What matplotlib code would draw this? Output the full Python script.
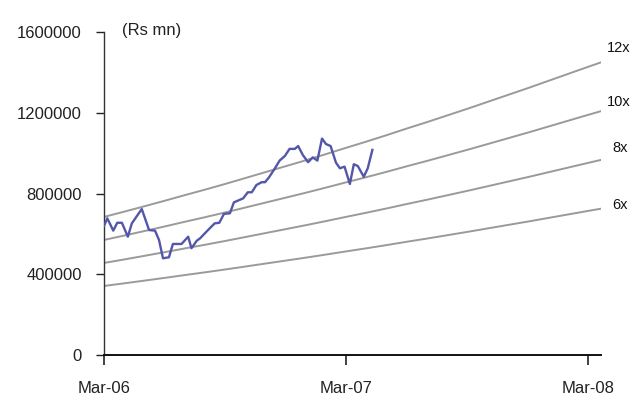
import matplotlib
matplotlib.use("Agg")
import matplotlib.pyplot as plt
import numpy as np
import pandas as pd

plt.rcParams['font.family'] = ['Liberation Sans', 'DejaVu Sans']

# Weekly market capitalisation (Rs mn)
mcap_dates = [
    "2006-03-01", "2006-03-06", "2006-03-15", "2006-03-21", "2006-03-28",
    "2006-04-06", "2006-04-12", "2006-04-27", "2006-05-08", "2006-05-17",
    "2006-05-23", "2006-05-29", "2006-06-07", "2006-06-13", "2006-06-26",
    "2006-07-06", "2006-07-11", "2006-07-19", "2006-07-24", "2006-08-05",
    "2006-08-15", "2006-08-22", "2006-08-29", "2006-09-07", "2006-09-13",
    "2006-09-27", "2006-10-04", "2006-10-10", "2006-10-17", "2006-10-25",
    "2006-10-30", "2006-11-05", "2006-11-14", "2006-11-21", "2006-11-29",
    "2006-12-06", "2006-12-14", "2006-12-19", "2006-12-26", "2007-01-03",
    "2007-01-10", "2007-01-17", "2007-01-24", "2007-01-30", "2007-02-06",
    "2007-02-14", "2007-02-20", "2007-02-27", "2007-03-07", "2007-03-13",
    "2007-03-19", "2007-03-28", "2007-04-03", "2007-04-10",
]
mcap_values = [
    639000, 677000, 616000, 655000, 655000,
    586000, 652000, 723000, 619000, 616000,
    570000, 479000, 484000, 550000, 550000,
    586000, 529000, 566000, 578000, 619000,
    652000, 655000, 699000, 702000, 756000,
    776000, 806000, 806000, 842000, 856000,
    856000, 880000, 925000, 963000, 986000,
    1021000, 1021000, 1035000, 991000, 955000,
    979000, 963000, 1072000, 1045000, 1035000,
    953000, 925000, 933000, 847000, 945000,
    936000, 883000, 925000, 1016000,
]

# Monthly earnings used for the P/E bands (Rs mn)
eps_dates = [
    "2006-03-01", "2006-04-01", "2006-05-01", "2006-06-01", "2006-07-01",
    "2006-08-01", "2006-09-01", "2006-10-01", "2006-11-01", "2006-12-01",
    "2007-01-01", "2007-02-01", "2007-03-01", "2007-04-01", "2007-05-01",
    "2007-06-01", "2007-07-01", "2007-08-01", "2007-09-01", "2007-10-01",
    "2007-11-01", "2007-12-01", "2008-01-01", "2008-02-01", "2008-03-01",
    "2008-03-20",
]
eps_values = [
    57000, 59200, 61400, 63700, 66000,
    68300, 70700, 73100, 75600, 78000,
    80500, 83100, 85500, 88100, 90700,
    93500, 96100, 98900, 101700, 104500,
    107400, 110200, 113200, 116200, 119000,
    120800,
]

pe_multiples = [12, 10, 8, 6]
pe_labels = ["12x", "10x", "8x", "6x"]

y_ticks = [0, 400000, 800000, 1200000, 1600000]
x_tick_dates = ["2006-03-01", "2007-03-01", "2008-03-01"]
x_tick_labels = ["Mar-06", "Mar-07", "Mar-08"]

W, H = 632, 403
fig = plt.figure(figsize=(W / 100, H / 100), dpi=100)
ax = fig.add_axes([104 / W, 1 - 355 / H, (601 - 104) / W, (355 - 32) / H])

ed = pd.to_datetime(eps_dates)
ev = np.array(eps_values, dtype=float)
for m in pe_multiples:
    ax.plot(ed, ev * m, color="#9a9a9a", lw=1.4, zorder=2)

ax.plot(pd.to_datetime(mcap_dates), mcap_values, color="#5457a9", lw=1.7, zorder=3)

ax.set_xlim(pd.Timestamp("2006-03-01"), pd.Timestamp("2008-03-20"))
ax.set_ylim(0, 1600000)
ax.set_yticks(y_ticks)
ax.set_yticklabels([str(v) for v in y_ticks])
ax.set_xticks(pd.to_datetime(x_tick_dates))
ax.set_xticklabels(x_tick_labels)

for s in ["top", "right"]:
    ax.spines[s].set_visible(False)
ax.spines["left"].set_color("#333333")
ax.spines["left"].set_linewidth(1.0)
ax.spines["bottom"].set_linewidth(1.4)
ax.spines["bottom"].set_color("#111111")

ax.tick_params(axis="y", direction="out", length=6, width=1, pad=10,
               labelsize=12, colors="#222222")
ax.tick_params(axis="x", direction="out", length=7, width=1.2, pad=12,
               labelsize=12, colors="#222222")

fig.text(122 / W, 1 - 30 / H, "(Rs mn)", fontsize=12, color="#222222",
         ha="left", va="center")

# Band labels at the right-hand end of each P/E line
label_pos = [(607, 48), (607, 102), (612, 148), (612, 205)]
for lab, (px, py) in zip(pe_labels, label_pos):
    fig.text(px / W, 1 - py / H, lab, fontsize=10.5, color="#111111",
             ha="left", va="center")

fig.savefig("out.png", dpi=100)
